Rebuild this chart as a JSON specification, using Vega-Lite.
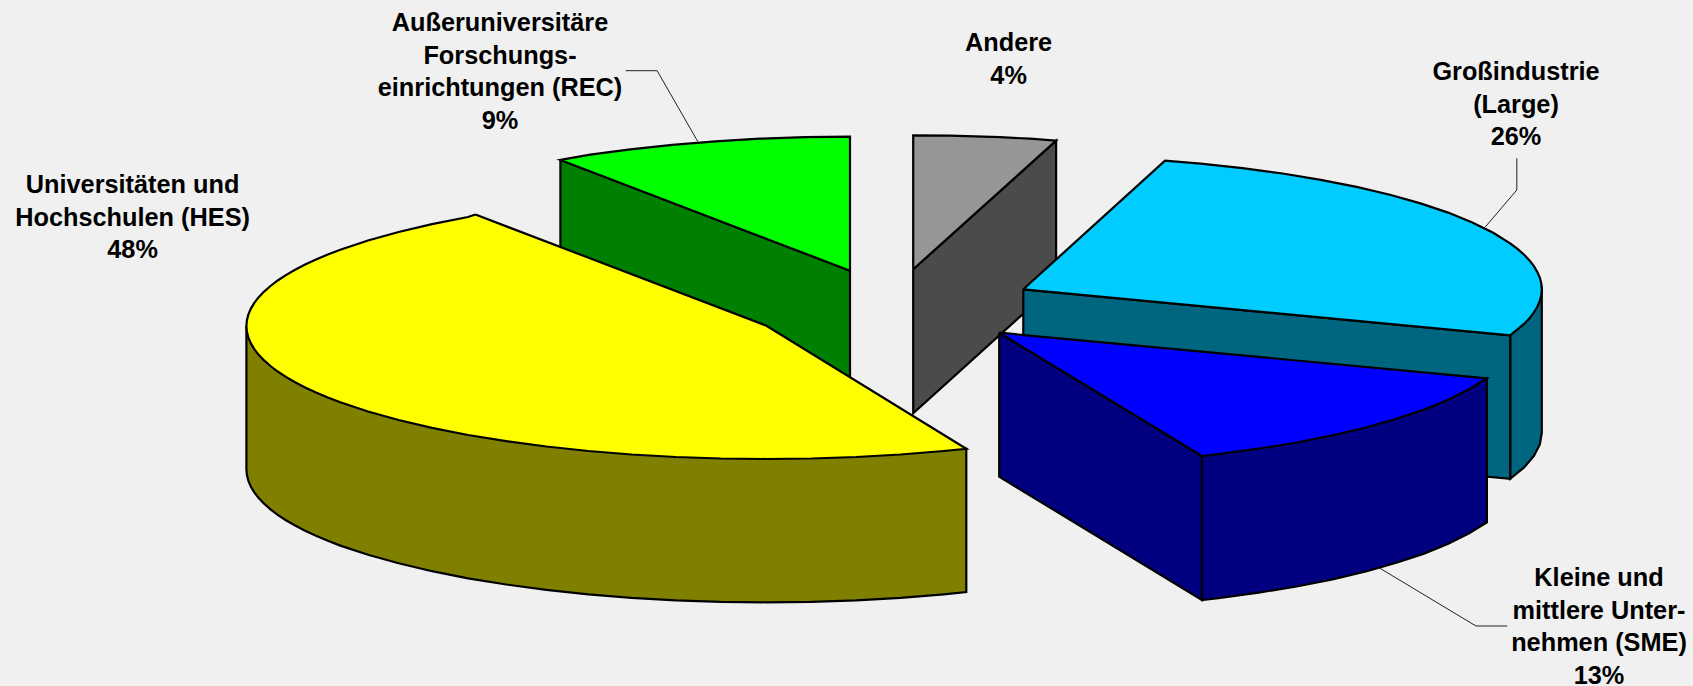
{"$schema":"https://vega.github.io/schema/vega-lite/v6.json","width":1693,"height":686,"padding":0,"autosize":{"type":"none"},"background":"#f0f0f0","view":{"stroke":null},"config":{"style":{"cell":{"stroke":null}}},
"datasets":{
"shapes":[
{"s":"a gray side","i":0,"x":913.2,"y":269.3},{"s":"a gray side","i":1,"x":1056.1,"y":140.6},{"s":"a gray side","i":2,"x":1056.1,"y":284},{"s":"a gray side","i":3,"x":913.2,"y":413.3},{"s":"a gray side","i":4,"x":913.2,"y":269.3},
{"s":"b gray top","i":0,"x":913.2,"y":269.3},{"s":"b gray top","i":1,"x":913.2,"y":135.3},{"s":"b gray top","i":2,"x":950,"y":135.6},{"s":"b gray top","i":3,"x":1000,"y":137.2},{"s":"b gray top","i":4,"x":1030,"y":138.7},{"s":"b gray top","i":5,"x":1056.1,"y":140.6},{"s":"b gray top","i":6,"x":913.2,"y":269.3},
{"s":"c green side","i":0,"x":560.4,"y":160},{"s":"c green side","i":1,"x":850,"y":270.7},{"s":"c green side","i":2,"x":850,"y":414},{"s":"c green side","i":3,"x":560.4,"y":303},{"s":"c green side","i":4,"x":560.4,"y":160},
{"s":"d green top","i":0,"x":850,"y":270.7},{"s":"d green top","i":1,"x":560.4,"y":160},{"s":"d green top","i":2,"x":590.2,"y":154.7},{"s":"d green top","i":3,"x":630.4,"y":149.3},{"s":"d green top","i":4,"x":672.3,"y":144.8},{"s":"d green top","i":5,"x":715.5,"y":141.3},{"s":"d green top","i":6,"x":759.8,"y":138.7},{"s":"d green top","i":7,"x":804.7,"y":137.2},{"s":"d green top","i":8,"x":850,"y":136.7},{"s":"d green top","i":9,"x":850,"y":270.7},
{"s":"e yellow side","i":0,"x":246.4,"y":326},{"s":"e yellow side","i":1,"x":246.4,"y":469.3},{"s":"e yellow side","i":2,"x":248.4,"y":480.9},{"s":"e yellow side","i":3,"x":254.3,"y":492.4},{"s":"e yellow side","i":4,"x":264.1,"y":503.7},{"s":"e yellow side","i":5,"x":277.7,"y":514.8},{"s":"e yellow side","i":6,"x":295.1,"y":525.5},{"s":"e yellow side","i":7,"x":316,"y":535.8},{"s":"e yellow side","i":8,"x":340.3,"y":545.6},{"s":"e yellow side","i":9,"x":368,"y":554.8},{"s":"e yellow side","i":10,"x":398.6,"y":563.3},{"s":"e yellow side","i":11,"x":432,"y":571.2},{"s":"e yellow side","i":12,"x":468,"y":578.3},{"s":"e yellow side","i":13,"x":506.2,"y":584.5},{"s":"e yellow side","i":14,"x":546.4,"y":589.8},{"s":"e yellow side","i":15,"x":588.3,"y":594.3},{"s":"e yellow side","i":16,"x":631.5,"y":597.8},{"s":"e yellow side","i":17,"x":675.8,"y":600.3},{"s":"e yellow side","i":18,"x":720.7,"y":601.8},{"s":"e yellow side","i":19,"x":766,"y":602.3},{"s":"e yellow side","i":20,"x":811.3,"y":601.8},{"s":"e yellow side","i":21,"x":856.2,"y":600.3},{"s":"e yellow side","i":22,"x":900.5,"y":597.8},{"s":"e yellow side","i":23,"x":943.7,"y":594.3},{"s":"e yellow side","i":24,"x":966.3,"y":592.1},{"s":"e yellow side","i":25,"x":966.3,"y":448.8},{"s":"e yellow side","i":26,"x":246.4,"y":326},
{"s":"e yellow side","i":1.5,"x":246.9,"y":475.1},{"s":"e yellow side","i":2.5,"x":250.9,"y":486.7},{"s":"e yellow side","i":3.5,"x":258.7,"y":498.1},{"s":"e yellow side","i":4.5,"x":270.5,"y":509.3},{"s":"e yellow side","i":5.5,"x":285.9,"y":520.2},{"s":"e yellow side","i":6.5,"x":305.1,"y":530.7},{"s":"e yellow side","i":7.5,"x":327.8,"y":540.8},
{"s":"f yellow top","i":0,"x":475.4,"y":214.5},{"s":"f yellow top","i":1,"x":468,"y":217},{"s":"f yellow top","i":2,"x":432,"y":224.1},{"s":"f yellow top","i":3,"x":398.6,"y":232},{"s":"f yellow top","i":4,"x":368,"y":240.5},{"s":"f yellow top","i":5,"x":340.3,"y":249.7},{"s":"f yellow top","i":6,"x":316,"y":259.5},{"s":"f yellow top","i":7,"x":295.1,"y":269.8},{"s":"f yellow top","i":8,"x":277.7,"y":280.5},{"s":"f yellow top","i":9,"x":264.1,"y":291.6},{"s":"f yellow top","i":10,"x":254.3,"y":302.9},{"s":"f yellow top","i":11,"x":248.4,"y":314.4},{"s":"f yellow top","i":12,"x":246.4,"y":326},{"s":"f yellow top","i":13,"x":248.4,"y":337.6},{"s":"f yellow top","i":14,"x":254.3,"y":349.1},{"s":"f yellow top","i":15,"x":264.1,"y":360.4},{"s":"f yellow top","i":16,"x":277.7,"y":371.5},{"s":"f yellow top","i":17,"x":295.1,"y":382.2},{"s":"f yellow top","i":18,"x":316,"y":392.5},{"s":"f yellow top","i":19,"x":340.3,"y":402.3},{"s":"f yellow top","i":20,"x":368,"y":411.5},{"s":"f yellow top","i":21,"x":398.6,"y":420},{"s":"f yellow top","i":22,"x":432,"y":427.9},{"s":"f yellow top","i":23,"x":468,"y":435},{"s":"f yellow top","i":24,"x":506.2,"y":441.2},{"s":"f yellow top","i":25,"x":546.4,"y":446.5},{"s":"f yellow top","i":26,"x":588.3,"y":451},{"s":"f yellow top","i":27,"x":631.5,"y":454.5},{"s":"f yellow top","i":28,"x":675.8,"y":457},{"s":"f yellow top","i":29,"x":720.7,"y":458.5},{"s":"f yellow top","i":30,"x":766,"y":459},{"s":"f yellow top","i":31,"x":811.3,"y":458.5},{"s":"f yellow top","i":32,"x":856.2,"y":457},{"s":"f yellow top","i":33,"x":900.5,"y":454.5},{"s":"f yellow top","i":34,"x":943.7,"y":451},{"s":"f yellow top","i":35,"x":966.3,"y":448.8},{"s":"f yellow top","i":36,"x":766.4,"y":325.7},{"s":"f yellow top","i":37,"x":475.4,"y":214.5},
{"s":"f yellow top","i":12.5,"x":246.9,"y":331.8},{"s":"f yellow top","i":13.5,"x":250.9,"y":343.4},{"s":"f yellow top","i":14.5,"x":258.7,"y":354.8},{"s":"f yellow top","i":15.5,"x":270.5,"y":366},{"s":"f yellow top","i":16.5,"x":285.9,"y":376.9},{"s":"f yellow top","i":17.5,"x":305.1,"y":387.4},{"s":"f yellow top","i":18.5,"x":327.8,"y":397.5},{"s":"f yellow top","i":11.5,"x":246.9,"y":320.2},{"s":"f yellow top","i":10.5,"x":250.9,"y":308.6},{"s":"f yellow top","i":9.5,"x":258.7,"y":297.2},{"s":"f yellow top","i":8.5,"x":270.5,"y":286},{"s":"f yellow top","i":7.5,"x":285.9,"y":275.1},{"s":"f yellow top","i":6.5,"x":305.1,"y":264.6},{"s":"f yellow top","i":5.5,"x":327.8,"y":254.5},
{"s":"g teal round","i":0,"x":1510.2,"y":335.3},{"s":"g teal round","i":1,"x":1510.2,"y":478.8},{"s":"g teal round","i":2,"x":1524.1,"y":467.4},{"s":"g teal round","i":3,"x":1533.9,"y":456},{"s":"g teal round","i":4,"x":1539.8,"y":444.5},{"s":"g teal round","i":5,"x":1541.8,"y":432.8},{"s":"g teal round","i":6,"x":1541.8,"y":289.3},{"s":"g teal round","i":7,"x":1510.2,"y":335.3},
{"s":"h teal front","i":0,"x":1023.3,"y":289.3},{"s":"h teal front","i":1,"x":1510.2,"y":335.3},{"s":"h teal front","i":2,"x":1510.2,"y":478.8},{"s":"h teal front","i":3,"x":1023.3,"y":432.8},{"s":"h teal front","i":4,"x":1023.3,"y":289.3},
{"s":"i teal top","i":0,"x":1023.3,"y":289.3},{"s":"i teal top","i":1,"x":1165,"y":160.7},{"s":"i teal top","i":2,"x":1200.6,"y":163.7},{"s":"i teal top","i":3,"x":1242.4,"y":168.1},{"s":"i teal top","i":4,"x":1282.6,"y":173.5},{"s":"i teal top","i":5,"x":1320.7,"y":179.8},{"s":"i teal top","i":6,"x":1356.6,"y":186.9},{"s":"i teal top","i":7,"x":1389.9,"y":194.8},{"s":"i teal top","i":8,"x":1420.5,"y":203.4},{"s":"i teal top","i":9,"x":1448.1,"y":212.6},{"s":"i teal top","i":10,"x":1472.3,"y":222.4},{"s":"i teal top","i":11,"x":1493.2,"y":232.8},{"s":"i teal top","i":12,"x":1510.5,"y":243.6},{"s":"i teal top","i":13,"x":1524.1,"y":254.7},{"s":"i teal top","i":14,"x":1533.9,"y":266.1},{"s":"i teal top","i":15,"x":1539.8,"y":277.6},{"s":"i teal top","i":16,"x":1541.8,"y":289.3},{"s":"i teal top","i":17,"x":1539.8,"y":301},{"s":"i teal top","i":18,"x":1533.9,"y":312.5},{"s":"i teal top","i":19,"x":1524.1,"y":323.9},{"s":"i teal top","i":20,"x":1510.2,"y":335.3},{"s":"i teal top","i":21,"x":1023.3,"y":289.3},
{"s":"i teal top","i":15.5,"x":1541.3,"y":283.5},{"s":"i teal top","i":14.5,"x":1537.3,"y":271.9},{"s":"i teal top","i":13.5,"x":1529.5,"y":260.4},{"s":"i teal top","i":12.5,"x":1517.8,"y":249.1},{"s":"i teal top","i":16.5,"x":1541.3,"y":295.1},{"s":"i teal top","i":17.5,"x":1537.3,"y":306.7},{"s":"i teal top","i":18.5,"x":1529.5,"y":318.2},
{"s":"j blue left","i":0,"x":999.2,"y":332.7},{"s":"j blue left","i":1,"x":1202,"y":456},{"s":"j blue left","i":2,"x":1202,"y":600},{"s":"j blue left","i":3,"x":999.2,"y":476.7},{"s":"j blue left","i":4,"x":999.2,"y":332.7},
{"s":"k blue round","i":0,"x":1202,"y":456},{"s":"k blue round","i":1,"x":1202,"y":600},{"s":"k blue round","i":2,"x":1218.3,"y":598.1},{"s":"k blue round","i":3,"x":1258.5,"y":592.7},{"s":"k blue round","i":4,"x":1296.6,"y":586.5},{"s":"k blue round","i":5,"x":1332.5,"y":579.3},{"s":"k blue round","i":6,"x":1365.8,"y":571.5},{"s":"k blue round","i":7,"x":1396.4,"y":562.8},{"s":"k blue round","i":8,"x":1424,"y":553.6},{"s":"k blue round","i":9,"x":1448.2,"y":543.7},{"s":"k blue round","i":10,"x":1469.1,"y":533.3},{"s":"k blue round","i":11,"x":1486.9,"y":522.3},{"s":"k blue round","i":12,"x":1486.9,"y":378.3},{"s":"k blue round","i":13,"x":1202,"y":456},
{"s":"l blue top","i":0,"x":999.2,"y":332.7},{"s":"l blue top","i":1,"x":1202,"y":456},{"s":"l blue top","i":2,"x":1218.3,"y":454.1},{"s":"l blue top","i":3,"x":1258.5,"y":448.7},{"s":"l blue top","i":4,"x":1296.6,"y":442.5},{"s":"l blue top","i":5,"x":1332.5,"y":435.3},{"s":"l blue top","i":6,"x":1365.8,"y":427.5},{"s":"l blue top","i":7,"x":1396.4,"y":418.8},{"s":"l blue top","i":8,"x":1424,"y":409.6},{"s":"l blue top","i":9,"x":1448.2,"y":399.7},{"s":"l blue top","i":10,"x":1469.1,"y":389.3},{"s":"l blue top","i":11,"x":1486.9,"y":378.3},{"s":"l blue top","i":12,"x":999.2,"y":332.7}
],
"leaders":[
{"k":"REC","i":0,"x":625.7,"y":70.7},{"k":"REC","i":1,"x":657.1,"y":70.7},{"k":"REC","i":2,"x":697.9,"y":141.7},
{"k":"Large","i":0,"x":1516.8,"y":158.3},{"k":"Large","i":1,"x":1516.8,"y":190},{"k":"Large","i":2,"x":1485,"y":227.3},
{"k":"SME","i":0,"x":1380,"y":568.3},{"k":"SME","i":1,"x":1476,"y":626},{"k":"SME","i":2,"x":1507.3,"y":626}
],
"labels":[
{"t":"Außeruniversitäre\nForschungs-\neinrichtungen (REC)\n9%","x":500,"y":23},
{"t":"Universitäten und\nHochschulen (HES)\n48%","x":132.6,"y":185},
{"t":"Andere\n4%","x":1008.6,"y":43},
{"t":"Großindustrie\n(Large)\n26%","x":1516,"y":72},
{"t":"Kleine und\nmittlere Unter-\nnehmen (SME)\n13%","x":1599,"y":578}
]},
"layer":[
{"data":{"name":"shapes"},"mark":{"type":"line","stroke":"black","strokeWidth":2.2,"strokeJoin":"miter"},
"encoding":{"x":{"field":"x","type":"quantitative","scale":{"domain":[0,1693],"nice":false,"zero":false},"axis":null},"y":{"field":"y","type":"quantitative","scale":{"domain":[686,0],"nice":false,"zero":false},"axis":null},"order":{"field":"i","type":"quantitative"},
"fill":{"field":"s","type":"nominal","legend":null,"scale":{"domain":["a gray side","b gray top","c green side","d green top","e yellow side","f yellow top","g teal round","h teal front","i teal top","j blue left","k blue round","l blue top"],"range":["#4b4b4b","#969696","#008000","#00ff00","#808000","#ffff00","#006680","#006680","#00ccff","#000080","#000080","#0000ff"]}}}},
{"data":{"name":"leaders"},"mark":{"type":"line","stroke":"#222222","strokeWidth":1},"encoding":{"x":{"field":"x","type":"quantitative"},"y":{"field":"y","type":"quantitative"},"order":{"field":"i","type":"quantitative"},"detail":{"field":"k"}}},
{"data":{"name":"labels"},"mark":{"type":"text","font":"Liberation Sans","fontWeight":"bold","fontSize":25.3,"lineBreak":"\n","lineHeight":32.5,"align":"center","baseline":"middle","color":"black"},"encoding":{"x":{"field":"x","type":"quantitative"},"y":{"field":"y","type":"quantitative"},"text":{"field":"t"}}}
]}
